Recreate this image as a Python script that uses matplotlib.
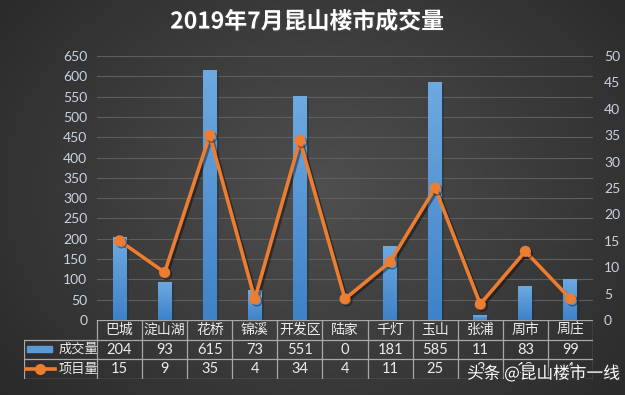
import numpy as np
import matplotlib.pyplot as plt
import matplotlib.patheffects as pe
from matplotlib.patches import Rectangle
from matplotlib.lines import Line2D

plt.rcParams['font.family'] = ['Noto Sans CJK SC', 'DejaVu Sans']

categories = ['巴城', '淀山湖', '花桥', '锦溪', '开发区', '陆家', '千灯', '玉山', '张浦', '周市', '周庄']
deals = [204, 93, 615, 73, 551, 0, 181, 585, 11, 83, 99]
projects = [15, 9, 35, 4, 34, 4, 11, 25, 3, 13, 4]
left_ticks = list(range(0, 651, 50))
right_ticks = list(range(0, 51, 5))

W, H = 625, 395
fig = plt.figure(figsize=(W / 100, H / 100), dpi=100)

# radial gradient background
bg = fig.add_axes([0, 0, 1, 1])
yy, xx = np.mgrid[0:H, 0:W]
r = np.sqrt(((xx - 320) / 420.0) ** 2 + ((yy - 190) / 330.0) ** 2)
g = np.clip(0.31 - 0.15 * r, 0.15, 0.31)
bg.imshow(np.dstack([g, g, g]), aspect='auto', extent=[0, W, H, 0])
bg.set_axis_off()

x0, x1, y0, y1 = 97, 593, 56, 320
ax = fig.add_axes([x0 / W, 1 - y1 / H, (x1 - x0) / W, (y1 - y0) / H])
ax.set_facecolor('none')
n = len(categories)
xs = np.arange(n)
bars = ax.bar(xs, deals, width=0.31, color='#5b9bd5', zorder=2,
              path_effects=[pe.SimplePatchShadow(offset=(1.5, -1.5), alpha=0.4), pe.Normal()])
grad = np.linspace(0, 1, 100).reshape(-1, 1)
cm = plt.matplotlib.colors.LinearSegmentedColormap.from_list('b', ['#6ea9e0', '#3f82c8'])
for b in bars:
    if b.get_height() <= 0:
        continue
    ax.imshow(grad, cmap=cm,
              extent=[b.get_x(), b.get_x() + b.get_width(), 0, b.get_height()],
              aspect='auto', zorder=2.1, origin='upper')
ax.set_xlim(-0.5, n - 0.5)
ax.set_ylim(0, 650)
ax.set_yticks(left_ticks)
ax.grid(axis='y', color='#5e5e5e', linewidth=0.8, zorder=0)
ax.set_xticks([])
for s in ax.spines.values():
    s.set_visible(False)
ax.tick_params(axis='y', length=0, pad=7, labelsize=10, labelcolor='#c9d3e3')
for t in ax.get_yticklabels():
    t.set_family(['Lato', 'DejaVu Sans'])

ax2 = ax.twinx()
ax2.set_ylim(0, 50)
ax2.set_yticks(right_ticks)
ax2.plot(xs, projects, color='#ed7d31', linewidth=2.6, marker='o', markersize=7, zorder=3,
         path_effects=[pe.SimpleLineShadow(offset=(1.5, -1.5), alpha=0.4), pe.Normal()])
for s in ax2.spines.values():
    s.set_visible(False)
ax2.tick_params(axis='y', length=0, pad=8, labelsize=10, labelcolor='#c9d3e3')
for t in ax2.get_yticklabels():
    t.set_family(['Lato', 'DejaVu Sans'])
ax.set_xlim(-0.5, n - 0.5)

fig.text(0.491, 1 - 22 / H, '2019年7月昆山楼市成交量', ha='center', va='center',
         fontsize=16.5, fontweight='bold', color='white',
         path_effects=[pe.withSimplePatchShadow(offset=(1, -1), alpha=0.5)])

# data table below the plot
leg_w = (x0 - 24) / ((x1 - x0) / n)
tb = fig.add_axes([24 / W, 1 - 379 / H, (x1 - 24) / W, (379 - 320) / H])
tb.set_xlim(-0.5 - leg_w, n - 0.5)
tb.set_ylim(0, 3)
tb.set_axis_off()
lc = '#a8a8a8'
lw = 0.9
tb.plot([-0.5, n - 0.5], [3, 3], color=lc, lw=lw)
tb.plot([-0.5 - leg_w, n - 0.5], [2, 2], color=lc, lw=lw)
tb.plot([-0.5 - leg_w, n - 0.5], [1, 1], color=lc, lw=lw)
tb.plot([-0.5 - leg_w, n - 0.5], [0, 0], color=lc, lw=lw)
tb.plot([-0.5 - leg_w, -0.5 - leg_w], [0, 2], color=lc, lw=lw)
for i in range(n + 1):
    tb.plot([i - 0.5, i - 0.5], [0, 3], color=lc, lw=lw)
tc = '#ececec'
for i, c in enumerate(categories):
    tb.text(i, 2.5, c, ha='center', va='center', fontsize=10, color=tc)
    tb.text(i, 1.5, str(deals[i]), ha='center', va='center', fontsize=10.5, color=tc,
            family=['Lato', 'DejaVu Sans'])
    tb.text(i, 0.5, str(projects[i]), ha='center', va='center', fontsize=10.5, color=tc,
            family=['Lato', 'DejaVu Sans'])
u = 1 / ((x1 - x0) / n)
lx = -0.5 - leg_w
tb.add_patch(Rectangle((lx + 3 * u, 1.35), 25 * u, 0.32, color='#5b9bd5'))
tb.add_line(Line2D([lx + 1 * u, lx + 16 * u, lx + 31 * u], [0.5, 0.5, 0.5], color='#ed7d31',
                   lw=2.6, marker='o', markevery=[1], markersize=7))
tb.text(lx + 35 * u, 1.5, '成交量', ha='left', va='center', fontsize=9.5, color=tc)
tb.text(lx + 35 * u, 0.5, '项目量', ha='left', va='center', fontsize=9.5, color=tc)

fig.text(467 / W, 1 - 374 / H, '头条 @昆山楼市一线', ha='left', va='center', fontsize=12,
         color='white', path_effects=[pe.withStroke(linewidth=2, foreground='#333333')])

fig.savefig('out.png', dpi=100)
